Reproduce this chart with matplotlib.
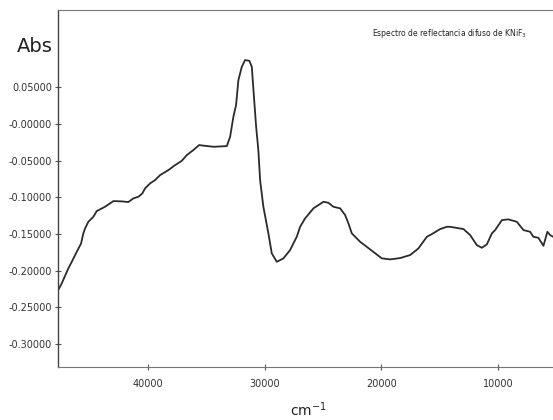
import numpy as np
import matplotlib
matplotlib.use("Agg")
import matplotlib.pyplot as plt

# wavenumber (cm-1) and absorbance
wavenumber = [47700, 47400, 46830, 46540, 46110, 45740, 45550, 45400, 45120, 44690,
              44400, 43690, 42970, 42250, 41690, 41260, 40830, 40490, 40260, 39830,
              39400, 38970, 38260, 37690, 37110, 36680, 36120, 35630, 35110, 34400,
              33250, 32970, 32690, 32460, 32260, 31970, 31690, 31320, 31110, 30970,
              30740, 30550, 30400, 30120, 29690, 29400, 28970, 28400, 27830, 27260,
              26970, 26540, 25830, 24970, 24550, 24120, 23540, 23110, 22830, 22540,
              21830, 20970, 19970, 19260, 18400, 17540, 16830, 16110, 15680, 14970,
              14400, 14120, 12970, 12400, 11830, 11400, 10970, 10540, 10260, 9680,
              9120, 8400, 7830, 7260, 6980, 6550, 6120, 5780, 5540, 5290]
absorb = [-0.2265, -0.2174, -0.1969, -0.1880, -0.1743, -0.1629, -0.1493, -0.1425, -0.1335, -0.1267,
          -0.1189, -0.1130, -0.1053, -0.1057, -0.1066, -0.1016, -0.0994, -0.0948, -0.0880, -0.0812,
          -0.0767, -0.0699, -0.0631, -0.0563, -0.0504, -0.0426, -0.0358, -0.0290, -0.0300, -0.0313,
          -0.0304, -0.0177, 0.0095, 0.0255, 0.0595, 0.0776, 0.0868, 0.0858, 0.0776, 0.0459,
          -0.0041, -0.0358, -0.0767, -0.1130, -0.1493, -0.1765, -0.1880, -0.1833, -0.1720, -0.1539,
          -0.1403, -0.1288, -0.1152, -0.1062, -0.1076, -0.1130, -0.1152, -0.1244, -0.1357, -0.1493,
          -0.1607, -0.1711, -0.1833, -0.1847, -0.1829, -0.1788, -0.1697, -0.1539, -0.1502, -0.1434,
          -0.1403, -0.1403, -0.1434, -0.1516, -0.1652, -0.1689, -0.1643, -0.1493, -0.1448, -0.1312,
          -0.1302, -0.1335, -0.1448, -0.1471, -0.1539, -0.1553, -0.1662, -0.1471, -0.1516, -0.1539]

yticks = [0.05, 0.0, -0.05, -0.10, -0.15, -0.20, -0.25, -0.30]
ytick_labels = ["0.05000", "-0.00000", "-0.05000", "-0.10000", "-0.15000",
                "-0.20000", "-0.25000", "-0.30000"]
xticks = [40000, 30000, 20000, 10000]
xtick_labels = ["40000", "30000", "20000", "10000"]

fig = plt.figure(figsize=(5.53, 4.2), dpi=100)
ax = fig.add_axes([0.105, 0.126, 0.895, 0.850])

ax.plot(wavenumber, absorb, color="#2b2b2b", lw=1.3)

ax.set_xlim(47714, 5300)
ax.set_ylim(-0.3314, 0.1549)

ax.set_yticks(yticks)
ax.set_yticklabels(ytick_labels, fontsize=7, color="#333333")
ax.set_xticks(xticks)
ax.set_xticklabels(xtick_labels, fontsize=7, color="#333333")
ax.tick_params(axis="both", direction="inout", length=5, width=0.8, color="#555555")
ax.tick_params(axis="y", pad=2)
ax.tick_params(axis="x", pad=6)

for side in ["top", "bottom"]:
    ax.spines[side].set_linestyle((0, (1, 1)))
    ax.spines[side].set_color("#777777")
    ax.spines[side].set_linewidth(0.8)
ax.spines["left"].set_color("#444444")
ax.spines["left"].set_linewidth(1.0)
ax.spines["right"].set_visible(False)

fig.text(35 / 553, 1 - 47 / 420, "Abs", fontsize=14, ha="center", va="center",
         color="#222222", fontweight="medium")
fig.text(449 / 553, 1 - 33 / 420, "Espectro de reflectancia difuso de KNiF$_3$",
         fontsize=5.5, ha="center", va="center", color="#222222")
fig.text(308 / 553, 1 - 410 / 420, "cm$^{-1}$", fontsize=10, ha="center", va="center",
         color="#222222")

fig.savefig("out.png", dpi=100)
